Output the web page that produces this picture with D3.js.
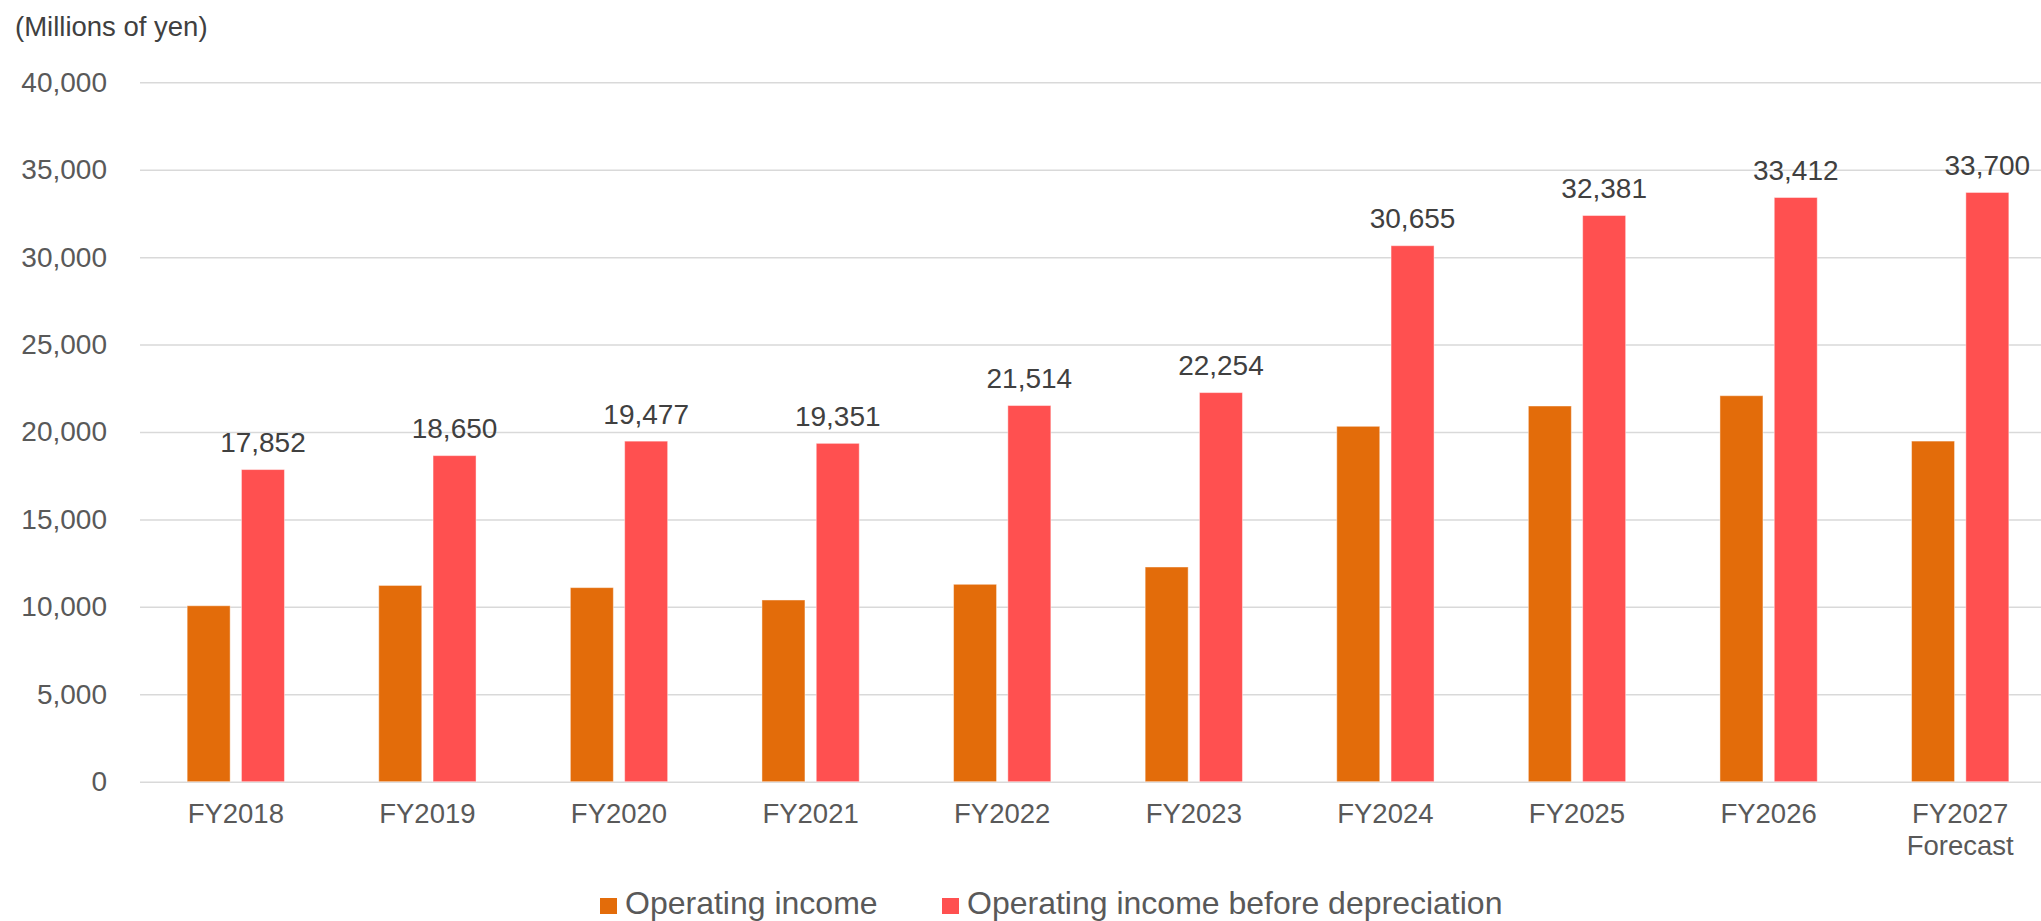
<!DOCTYPE html>
<html>
<head>
<meta charset="utf-8">
<script src="https://cdn.jsdelivr.net/npm/d3@7"></script>
<style>
  html, body { margin: 0; padding: 0; background: #fff; overflow: hidden; }
  svg { display: block; font-family: "Liberation Sans", Arial, sans-serif; }
</style>
</head>
<body>
<svg id="chart" width="2041" height="921"></svg>
<script>
// Fiscal years shown on the x axis (second line used for the forecast year)
const categories = ["FY2018", "FY2019", "FY2020", "FY2021", "FY2022", "FY2023", "FY2024", "FY2025", "FY2026", "FY2027"];
const categoryNotes = ["", "", "", "", "", "", "", "", "", "Forecast"];

// Series values, millions of yen
const operatingIncome = [10063, 11224, 11100, 10392, 11290, 12279, 20326, 21487, 22076, 19481];
const operatingIncomeBeforeDep = [17852, 18650, 19477, 19351, 21514, 22254, 30655, 32381, 33412, 33700];

const seriesNames = ["Operating income", "Operating income before depreciation"];
const seriesColors = ["#E36C0A", "#FF5050"];

const yTicks = [0, 5000, 10000, 15000, 20000, 25000, 30000, 35000, 40000];
const unitLabel = "(Millions of yen)";

const svg = d3.select("#chart");

const plot = { left: 140, right: 2056, top: 82.3, bottom: 781.7 };

const y = d3.scaleLinear().domain([0, 40000]).range([plot.bottom, plot.top]);
const x0 = d3.scaleBand().domain(categories).range([plot.left, plot.right]).padding(0);
const groupWidth = 97.3;
const x1 = d3.scaleBand().domain([0, 1]).range([0, groupWidth]).paddingInner(0.208).paddingOuter(0);
const groupOffset = (x0.bandwidth() - groupWidth) / 2;

const fmt = d3.format(",");

// Horizontal gridlines with tick labels
const yAxis = d3.axisLeft(y).tickValues(yTicks).tickFormat(fmt)
  .tickSize(-(plot.right - plot.left)).tickPadding(33);
const gy = svg.append("g").attr("transform", `translate(${plot.left},0)`).call(yAxis);
gy.select(".domain").remove();
gy.selectAll(".tick line").attr("stroke", "#D9D9D9").attr("stroke-width", 1.5);
gy.selectAll(".tick text").attr("fill", "#595959").attr("font-size", 28);

// Unit caption
svg.append("text").attr("x", 15).attr("y", 36)
  .attr("fill", "#404040").attr("font-size", 27.5).text(unitLabel);

// Bars
const series = [operatingIncome, operatingIncomeBeforeDep];
series.forEach((vals, si) => {
  svg.append("g").selectAll("rect").data(vals).join("rect")
    .attr("x", (d, i) => x0(categories[i]) + groupOffset + x1(si))
    .attr("y", d => y(d))
    .attr("width", x1.bandwidth())
    .attr("height", d => y(0) - y(d))
    .attr("fill", seriesColors[si])
    .attr("stroke", "#ffffff").attr("stroke-opacity", 0.45).attr("stroke-width", 1);
});

// Value labels above the depreciation-inclusive bars
svg.append("g").selectAll("text").data(operatingIncomeBeforeDep).join("text")
  .attr("x", (d, i) => x0(categories[i]) + groupOffset + x1(1) + x1.bandwidth() / 2)
  .attr("y", d => y(d) - 17.5)
  .attr("text-anchor", "middle")
  .attr("fill", "#404040").attr("font-size", 28)
  .text(d => fmt(d));

// Category labels
const xl = svg.append("g").selectAll("text").data(categories).join("text")
  .attr("x", d => x0(d) + x0.bandwidth() / 2)
  .attr("y", 823)
  .attr("text-anchor", "middle")
  .attr("fill", "#595959").attr("font-size", 27.5);
xl.append("tspan").attr("x", d => x0(d) + x0.bandwidth() / 2).text(d => d);
xl.append("tspan").attr("x", d => x0(d) + x0.bandwidth() / 2).attr("dy", 32)
  .text((d, i) => categoryNotes[i]);

// Legend
const legendItems = [
  { name: seriesNames[0], color: seriesColors[0], x: 600 },
  { name: seriesNames[1], color: seriesColors[1], x: 942 }
];
const lg = svg.append("g").selectAll("g").data(legendItems).join("g");
lg.append("rect").attr("x", d => d.x).attr("y", 898).attr("width", 17).attr("height", 16)
  .attr("fill", d => d.color);
lg.append("text").attr("x", d => d.x + 25).attr("y", 914)
  .attr("fill", "#595959").attr("font-size", 32).text(d => d.name);
</script>
</body>
</html>
